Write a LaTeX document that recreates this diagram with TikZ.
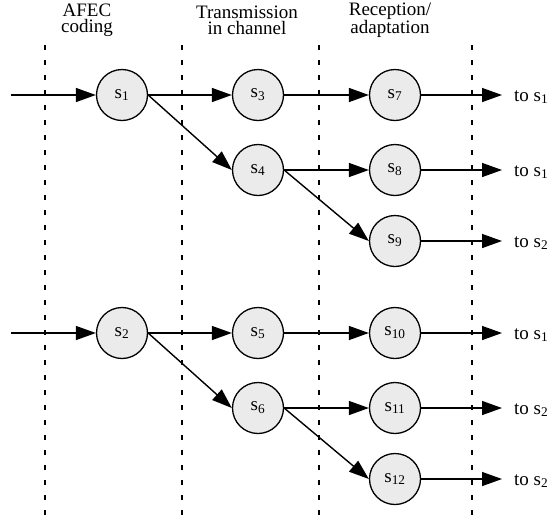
\documentclass[tikz,border=0pt]{standalone}
\usepackage{fontspec}
\setmainfont{Liberation Serif}
\usetikzlibrary{arrows.meta,positioning}
\tikzset{
  state/.style={circle,draw,line width=1.3pt,fill=black!8,minimum size=51pt,inner sep=0pt},
  flow/.style={line width=1.4pt,-{Triangle[length=20pt,width=14pt]}},
  phase/.style={line width=1.2pt,dash pattern=on 5pt off 10pt},
  dest/.style={anchor=base west,inner sep=0pt},
}
\begin{document}
\begin{tikzpicture}[x=1pt,y=-1pt,every node/.style={font=\fontsize{19}{16}\selectfont}]
\useasboundingbox (0,0) rectangle (553,523);
\foreach \x in {45,182,319,472} \draw[phase] (\x,45) -- (\x,523);
\node[align=center] (afec) at (87,20) {AFEC\\coding};
\node[align=center] (chan) at (247,20) {Transmission\\in channel};
\node[align=center] (recv) at (390,20) {Reception/\\adaptation};
\node[state] (s1) at (122,95) {s\textsubscript{1}};
\node[state] (s2) at (122,333) {s\textsubscript{2}};
\node[state] (s3) at (258,95) {s\textsubscript{3}};
\node[state] (s4) at (258,170) {s\textsubscript{4}};
\node[state] (s5) at (258,333) {s\textsubscript{5}};
\node[state] (s6) at (258,408) {s\textsubscript{6}};
\node[state] (s7) at (395,95) {s\textsubscript{7}};
\node[state] (s8) at (395,170) {s\textsubscript{8}};
\node[state] (s9) at (395,241) {s\textsubscript{9}};
\node[state] (s10) at (395,333) {s\textsubscript{10}};
\node[state] (s11) at (395,408) {s\textsubscript{11}};
\node[state] (s12) at (395,479) {s\textsubscript{12}};
\coordinate (in1) at (11,95);
\coordinate (in2) at (11,333);
\coordinate (o7) at (502,95);
\coordinate (o8) at (502,170);
\coordinate (o9) at (502,241);
\coordinate (o10) at (502,333);
\coordinate (o11) at (502,408);
\coordinate (o12) at (502,479);
\draw[flow] (in1) -- (s1);
\draw[flow] (in2) -- (s2);
\draw[flow] (s1) -- (s3);
\draw[flow] (s1.east) -- (s4.west);
\draw[flow] (s2) -- (s5);
\draw[flow] (s2.east) -- (s6.west);
\draw[flow] (s3) -- (s7);
\draw[flow] (s4) -- (s8);
\draw[flow] (s4.east) -- (s9.west);
\draw[flow] (s5) -- (s10);
\draw[flow] (s6) -- (s11);
\draw[flow] (s6.east) -- (s12.west);
\draw[flow] (s7) -- (o7);
\draw[flow] (s8) -- (o8);
\draw[flow] (s9) -- (o9);
\draw[flow] (s10) -- (o10);
\draw[flow] (s11) -- (o11);
\draw[flow] (s12) -- (o12);
\node[dest] (t7) at (514,101) {to s\textsubscript{1}};
\node[dest] (t8) at (514,176) {to s\textsubscript{1}};
\node[dest] (t9) at (514,247) {to s\textsubscript{2}};
\node[dest] (t10) at (514,339) {to s\textsubscript{1}};
\node[dest] (t11) at (514,414) {to s\textsubscript{2}};
\node[dest] (t12) at (514,485) {to s\textsubscript{2}};
\end{tikzpicture}
\end{document}
